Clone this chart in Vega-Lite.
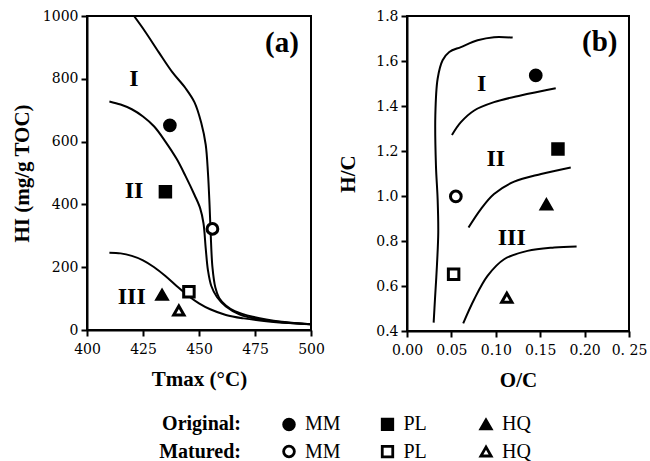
{
  "$schema": "https://vega.github.io/schema/vega-lite/v6.json",
  "background": "white",
  "padding": {"left": 10, "top": 8, "right": 0, "bottom": 0},
  "config": {
    "font": "Liberation Serif",
    "view": {"stroke": "black", "strokeWidth": 2},
    "axis": {
      "grid": false,
      "domainColor": "black",
      "domainWidth": 2,
      "tickColor": "black",
      "tickWidth": 2,
      "tickSize": 6,
      "labelFont": "DejaVu Serif",
      "labelFontSize": 14,
      "labelColor": "black",
      "labelPadding": 3,
      "labelOverlap": false,
      "labelFlush": false,
      "titleFont": "Liberation Serif",
      "titleFontSize": 21,
      "titleFontWeight": "bold",
      "titleColor": "black"
    },
    "axisX": {"labelPadding": 6, "titlePadding": 12}
  },
  "datasets": {
    "curvesA": [
      {"curve": "I", "i": 1, "tmax": 421, "hi": 1000},
      {"curve": "I", "i": 2, "tmax": 426, "hi": 950},
      {"curve": "I", "i": 3, "tmax": 432, "hi": 885},
      {"curve": "I", "i": 4, "tmax": 438, "hi": 822},
      {"curve": "I", "i": 5, "tmax": 444, "hi": 770},
      {"curve": "I", "i": 6, "tmax": 448, "hi": 725},
      {"curve": "I", "i": 7, "tmax": 451, "hi": 660},
      {"curve": "I", "i": 8, "tmax": 453, "hi": 590},
      {"curve": "I", "i": 9, "tmax": 454, "hi": 500},
      {"curve": "I", "i": 10, "tmax": 454.7, "hi": 400},
      {"curve": "I", "i": 11, "tmax": 455.2, "hi": 310},
      {"curve": "I", "i": 12, "tmax": 456, "hi": 200},
      {"curve": "I", "i": 13, "tmax": 457.3, "hi": 135},
      {"curve": "I", "i": 14, "tmax": 459, "hi": 102},
      {"curve": "I", "i": 15, "tmax": 462, "hi": 78},
      {"curve": "I", "i": 16, "tmax": 466, "hi": 60},
      {"curve": "I", "i": 17, "tmax": 474, "hi": 42},
      {"curve": "I", "i": 18, "tmax": 487, "hi": 26},
      {"curve": "I", "i": 19, "tmax": 500, "hi": 18},
      {"curve": "II", "i": 1, "tmax": 410, "hi": 728},
      {"curve": "II", "i": 2, "tmax": 415, "hi": 718},
      {"curve": "II", "i": 3, "tmax": 420, "hi": 703},
      {"curve": "II", "i": 4, "tmax": 425, "hi": 680},
      {"curve": "II", "i": 5, "tmax": 430, "hi": 648},
      {"curve": "II", "i": 6, "tmax": 435, "hi": 600},
      {"curve": "II", "i": 7, "tmax": 440, "hi": 545},
      {"curve": "II", "i": 8, "tmax": 444, "hi": 490},
      {"curve": "II", "i": 9, "tmax": 448, "hi": 430},
      {"curve": "II", "i": 10, "tmax": 450.5, "hi": 388},
      {"curve": "II", "i": 11, "tmax": 452, "hi": 340},
      {"curve": "II", "i": 12, "tmax": 453, "hi": 260},
      {"curve": "II", "i": 13, "tmax": 454, "hi": 190},
      {"curve": "II", "i": 14, "tmax": 455.5, "hi": 140},
      {"curve": "II", "i": 15, "tmax": 458, "hi": 105},
      {"curve": "II", "i": 16, "tmax": 462, "hi": 75},
      {"curve": "II", "i": 17, "tmax": 468, "hi": 50},
      {"curve": "II", "i": 18, "tmax": 476, "hi": 35},
      {"curve": "II", "i": 19, "tmax": 487, "hi": 25},
      {"curve": "II", "i": 20, "tmax": 500, "hi": 18},
      {"curve": "III", "i": 1, "tmax": 410, "hi": 246},
      {"curve": "III", "i": 2, "tmax": 415, "hi": 244},
      {"curve": "III", "i": 3, "tmax": 420, "hi": 236},
      {"curve": "III", "i": 4, "tmax": 425, "hi": 222},
      {"curve": "III", "i": 5, "tmax": 430, "hi": 200},
      {"curve": "III", "i": 6, "tmax": 435, "hi": 172},
      {"curve": "III", "i": 7, "tmax": 440, "hi": 140},
      {"curve": "III", "i": 8, "tmax": 445, "hi": 110},
      {"curve": "III", "i": 9, "tmax": 450, "hi": 85},
      {"curve": "III", "i": 10, "tmax": 455, "hi": 66},
      {"curve": "III", "i": 11, "tmax": 462, "hi": 48},
      {"curve": "III", "i": 12, "tmax": 470, "hi": 37},
      {"curve": "III", "i": 13, "tmax": 480, "hi": 28},
      {"curve": "III", "i": 14, "tmax": 490, "hi": 22},
      {"curve": "III", "i": 15, "tmax": 500, "hi": 18}
    ],
    "pointsA": [
      {"state": "Original", "sample": "MM", "tmax": 437, "hi": 652},
      {"state": "Original", "sample": "PL", "tmax": 435, "hi": 440},
      {"state": "Original", "sample": "HQ", "tmax": 433.5, "hi": 112},
      {"state": "Matured", "sample": "MM", "tmax": 456, "hi": 322},
      {"state": "Matured", "sample": "PL", "tmax": 445.5, "hi": 122},
      {"state": "Matured", "sample": "HQ", "tmax": 441, "hi": 62}
    ],
    "regionsA": [
      {"label": "I", "tmax": 421, "hi": 800},
      {"label": "II", "tmax": 421, "hi": 443},
      {"label": "III", "tmax": 420, "hi": 104}
    ],
    "tagA": [{"label": "(a)", "tmax": 487, "hi": 915}],
    "curvesB": [
      {"curve": "edge", "i": 1, "oc": 0.119, "hc": 1.704},
      {"curve": "edge", "i": 2, "oc": 0.098, "hc": 1.706},
      {"curve": "edge", "i": 3, "oc": 0.0795, "hc": 1.692},
      {"curve": "edge", "i": 4, "oc": 0.0607, "hc": 1.662},
      {"curve": "edge", "i": 5, "oc": 0.0476, "hc": 1.64},
      {"curve": "edge", "i": 6, "oc": 0.0401, "hc": 1.603},
      {"curve": "edge", "i": 7, "oc": 0.0345, "hc": 1.521},
      {"curve": "edge", "i": 8, "oc": 0.0319, "hc": 1.358},
      {"curve": "edge", "i": 9, "oc": 0.0326, "hc": 1.135},
      {"curve": "edge", "i": 10, "oc": 0.0345, "hc": 0.986},
      {"curve": "edge", "i": 11, "oc": 0.0352, "hc": 0.838},
      {"curve": "edge", "i": 12, "oc": 0.0337, "hc": 0.69},
      {"curve": "edge", "i": 13, "oc": 0.0315, "hc": 0.541},
      {"curve": "edge", "i": 14, "oc": 0.03, "hc": 0.437},
      {"curve": "I-II", "i": 1, "oc": 0.0506, "hc": 1.271},
      {"curve": "I-II", "i": 2, "oc": 0.0607, "hc": 1.328},
      {"curve": "I-II", "i": 3, "oc": 0.0757, "hc": 1.38},
      {"curve": "I-II", "i": 4, "oc": 0.098, "hc": 1.417},
      {"curve": "I-II", "i": 5, "oc": 0.128, "hc": 1.447},
      {"curve": "I-II", "i": 6, "oc": 0.1675, "hc": 1.479},
      {"curve": "II-III", "i": 1, "oc": 0.0693, "hc": 0.86},
      {"curve": "II-III", "i": 2, "oc": 0.0832, "hc": 0.942},
      {"curve": "II-III", "i": 3, "oc": 0.098, "hc": 1.009},
      {"curve": "II-III", "i": 4, "oc": 0.1207, "hc": 1.064},
      {"curve": "II-III", "i": 5, "oc": 0.151, "hc": 1.098},
      {"curve": "II-III", "i": 6, "oc": 0.1844, "hc": 1.127},
      {"curve": "III", "i": 1, "oc": 0.0633, "hc": 0.434},
      {"curve": "III", "i": 2, "oc": 0.0757, "hc": 0.541},
      {"curve": "III", "i": 3, "oc": 0.0907, "hc": 0.645},
      {"curve": "III", "i": 4, "oc": 0.1094, "hc": 0.719},
      {"curve": "III", "i": 5, "oc": 0.1357, "hc": 0.756},
      {"curve": "III", "i": 6, "oc": 0.1657, "hc": 0.771},
      {"curve": "III", "i": 7, "oc": 0.191, "hc": 0.776}
    ],
    "pointsB": [
      {"state": "Original", "sample": "MM", "oc": 0.145, "hc": 1.536},
      {"state": "Original", "sample": "PL", "oc": 0.17, "hc": 1.209},
      {"state": "Original", "sample": "HQ", "oc": 0.157, "hc": 0.962},
      {"state": "Matured", "sample": "MM", "oc": 0.055, "hc": 0.998},
      {"state": "Matured", "sample": "PL", "oc": 0.0525, "hc": 0.652},
      {"state": "Matured", "sample": "HQ", "oc": 0.1124, "hc": 0.548}
    ],
    "regionsB": [
      {"label": "I", "oc": 0.084, "hc": 1.5},
      {"label": "II", "oc": 0.1, "hc": 1.165},
      {"label": "III", "oc": 0.118, "hc": 0.813}
    ],
    "tagB": [{"label": "(b)", "oc": 0.217, "hc": 1.684}],
    "legend": [
      {"state": "Original", "sample": "MM"},
      {"state": "Original", "sample": "PL"},
      {"state": "Original", "sample": "HQ"},
      {"state": "Matured", "sample": "MM"},
      {"state": "Matured", "sample": "PL"},
      {"state": "Matured", "sample": "HQ"}
    ]
  },
  "spacing": 22,
  "vconcat": [
    {
      "spacing": 10,
      "hconcat": [
        {
          "width": 224,
          "height": 314,
          "encoding": {
            "x": {"field": "tmax", "type": "quantitative", "scale": {"domain": [400, 500], "nice": false, "zero": false}, "axis": {"values": [400, 425, 450, 475, 500], "title": "Tmax (°C)"}},
            "y": {"field": "hi", "type": "quantitative", "scale": {"domain": [0, 1000], "nice": false}, "axis": {"values": [0, 200, 400, 600, 800, 1000], "format": "d", "title": "HI (mg/g TOC)", "titlePadding": 10}}
          },
          "layer": [
            {"data": {"name": "curvesA"}, "mark": {"type": "line", "interpolate": "catmull-rom", "color": "black", "strokeWidth": 2, "clip": true}, "encoding": {"detail": {"field": "curve"}, "order": {"field": "i"}}},
            {"data": {"name": "pointsA"}, "mark": {"type": "point", "filled": true, "stroke": "black", "strokeWidth": 3, "opacity": 1},
              "encoding": {
                "shape": {"field": "sample", "scale": {"domain": ["MM", "PL", "HQ"], "range": ["circle", "square", "triangle-up"]}, "legend": null},
                "size": {"field": "sample", "type": "nominal", "scale": {"domain": ["MM", "PL", "HQ"], "range": [115, 105, 260]}, "legend": null},
                "fill": {"field": "state", "scale": {"domain": ["Original", "Matured"], "range": ["black", "white"]}, "legend": null}
              }},
            {"data": {"name": "regionsA"}, "mark": {"type": "text", "fontSize": 24, "fontWeight": "bold", "font": "Liberation Serif", "color": "black"}, "encoding": {"text": {"field": "label"}}},
            {"data": {"name": "tagA"}, "mark": {"type": "text", "fontSize": 29, "fontWeight": "bold", "font": "Liberation Serif", "color": "black"}, "encoding": {"text": {"field": "label"}}}
          ]
        },
        {
          "width": 222,
          "height": 315,
          "encoding": {
            "x": {"field": "oc", "type": "quantitative", "scale": {"domain": [0, 0.25], "nice": false, "zero": false}, "axis": {"values": [0, 0.05, 0.1, 0.15, 0.2, 0.25], "labelExpr": "datum.value > 0.24 ? '0. 25' : format(datum.value, '.2f')", "title": "O/C"}},
            "y": {"field": "hc", "type": "quantitative", "scale": {"domain": [0.4, 1.8], "nice": false, "zero": false}, "axis": {"values": [0.4, 0.6, 0.8, 1.0, 1.2, 1.4, 1.6, 1.8], "format": ".1f", "title": "H/C", "titlePadding": 17}}
          },
          "layer": [
            {"data": {"name": "curvesB"}, "mark": {"type": "line", "interpolate": "catmull-rom", "color": "black", "strokeWidth": 2, "clip": true}, "encoding": {"detail": {"field": "curve"}, "order": {"field": "i"}}},
            {"data": {"name": "pointsB"}, "mark": {"type": "point", "filled": true, "stroke": "black", "strokeWidth": 3, "opacity": 1},
              "encoding": {
                "shape": {"field": "sample", "scale": {"domain": ["MM", "PL", "HQ"], "range": ["circle", "square", "triangle-up"]}, "legend": null},
                "size": {"field": "sample", "type": "nominal", "scale": {"domain": ["MM", "PL", "HQ"], "range": [110, 95, 250]}, "legend": null},
                "fill": {"field": "state", "scale": {"domain": ["Original", "Matured"], "range": ["black", "white"]}, "legend": null}
              }},
            {"data": {"name": "regionsB"}, "mark": {"type": "text", "fontSize": 24, "fontWeight": "bold", "font": "Liberation Serif", "color": "black"}, "encoding": {"text": {"field": "label"}}},
            {"data": {"name": "tagB"}, "mark": {"type": "text", "fontSize": 29, "fontWeight": "bold", "font": "Liberation Serif", "color": "black"}, "encoding": {"text": {"field": "label"}}}
          ]
        }
      ]
    },
    {
      "data": {"name": "legend"},
      "width": 425,
      "height": 38,
      "view": {"stroke": null},
      "encoding": {
        "x": {"field": "sample", "type": "nominal", "sort": ["MM", "PL", "HQ"], "scale": {"type": "point", "range": [202, 399], "padding": 0}, "axis": null},
        "y": {"field": "state", "type": "nominal", "sort": ["Original", "Matured"], "scale": {"type": "point", "padding": 0.2}, "axis": null}
      },
      "layer": [
        {"mark": {"type": "point", "filled": true, "stroke": "black", "strokeWidth": 2.8, "opacity": 1},
          "encoding": {
            "shape": {"field": "sample", "scale": {"domain": ["MM", "PL", "HQ"], "range": ["circle", "square", "triangle-up"]}, "legend": null},
            "size": {"field": "sample", "type": "nominal", "scale": {"domain": ["MM", "PL", "HQ"], "range": [80, 80, 170]}, "legend": null},
            "fill": {"field": "state", "scale": {"domain": ["Original", "Matured"], "range": ["black", "white"]}, "legend": null}
          }},
        {"mark": {"type": "text", "align": "left", "dx": 16, "fontSize": 20, "font": "Liberation Serif", "color": "black"}, "encoding": {"text": {"field": "sample"}}},
        {"transform": [{"filter": "datum.sample == 'MM'"}, {"calculate": "datum.state + ':'", "as": "stateLabel"}],
          "mark": {"type": "text", "align": "right", "dx": -48, "fontSize": 20, "fontWeight": "bold", "font": "Liberation Serif", "color": "black"},
          "encoding": {"text": {"field": "stateLabel"}}}
      ]
    }
  ]
}
